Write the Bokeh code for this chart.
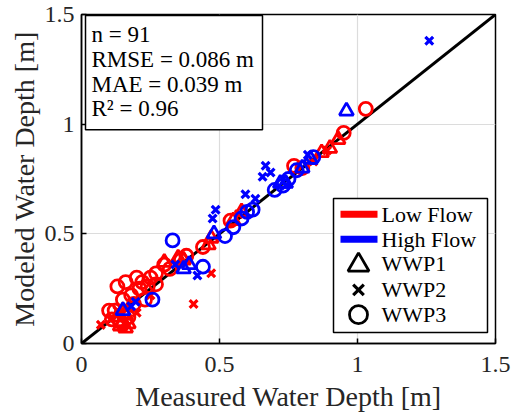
from bokeh.plotting import figure
from bokeh.models import Label, BoxAnnotation, Range1d, FixedTicker
from bokeh.embed import file_html
from bokeh.resources import INLINE

# ---------------- data ----------------
low_wwp1_x = [0.14, 0.15, 0.16, 0.17, 0.13, 0.16, 0.30, 0.35, 0.37, 0.46, 0.47, 0.55, 0.58, 0.87, 0.90, 0.93]
low_wwp1_y = [0.08, 0.10, 0.07, 0.09, 0.12, 0.13, 0.37, 0.39, 0.38, 0.45, 0.48, 0.56, 0.60, 0.87, 0.89, 0.93]

low_wwp2_x = [0.07, 0.105, 0.20, 0.406, 0.47, 0.57, 0.16, 0.25, 0.13, 0.89, 0.84]
low_wwp2_y = [0.085, 0.11, 0.14, 0.18, 0.32, 0.59, 0.17, 0.22, 0.15, 0.88, 0.83]

low_wwp3_x = [0.12, 0.13, 0.15, 0.16, 0.18, 0.20, 0.21, 0.22, 0.24, 0.25, 0.27, 0.30, 0.32, 0.36,
              0.38, 0.14, 0.17, 0.19, 0.23, 0.27, 0.44, 0.54, 0.77, 0.80, 0.95, 1.03, 0.10, 0.11]
low_wwp3_y = [0.15, 0.26, 0.20, 0.28, 0.22, 0.30, 0.25, 0.28, 0.26, 0.30, 0.32, 0.36, 0.34, 0.38,
              0.40, 0.10, 0.12, 0.18, 0.20, 0.27, 0.44, 0.56, 0.81, 0.80, 0.96, 1.07, 0.15, 0.11]

high_wwp1_x = [0.96, 0.37, 0.39, 0.48, 0.72, 0.80, 0.83, 0.74, 0.15]
high_wwp1_y = [1.06, 0.34, 0.36, 0.50, 0.73, 0.80, 0.84, 0.73, 0.15]

high_wwp2_x = [1.26, 0.667, 0.685, 0.656, 0.594, 0.63, 0.486, 0.475, 0.42, 0.34, 0.196, 0.18, 0.74, 0.82]
high_wwp2_y = [1.38, 0.81, 0.78, 0.76, 0.68, 0.66, 0.61, 0.57, 0.31, 0.36, 0.19, 0.17, 0.72, 0.86]

high_wwp3_x = [0.33, 0.44, 0.257, 0.52, 0.55, 0.62, 0.70, 0.73, 0.60, 0.78, 0.84, 0.58, 0.75]
high_wwp3_y = [0.47, 0.35, 0.20, 0.49, 0.53, 0.61, 0.70, 0.72, 0.60, 0.79, 0.85, 0.57, 0.75]

one_to_one = [0.0, 1.5]
tick_values = [0, 0.5, 1, 1.5]
tick_labels = ["0", "0.5", "1", "1.5"]
stats_lines = ["n = 91", "RMSE = 0.086 m", "MAE = 0.039 m", "R\u00b2 = 0.96"]
legend_labels = ["Low Flow", "High Flow", "WWP1", "WWP2", "WWP3"]

FONT = "Liberation Serif"
RED = "#ff0000"
BLUE = "#0000ff"
TXT = "#262626"

W, H = 511, 414
FL, FR, FT, FB = 81, 495, 14, 345   # frame edges in pixels
XMAX = YMAX = 1.5


def px2x(px):
    return (px - FL) / (FR - FL) * XMAX


def py2y(py):
    return (FB - py) / (FB - FT) * YMAX


p = figure(width=W, height=H, x_range=Range1d(0, XMAX), y_range=Range1d(0, YMAX),
           output_backend="svg", toolbar_location=None,
           min_border_left=FL, min_border_right=W - FR, min_border_top=FT, min_border_bottom=H - FB)
p.background_fill_color = "white"
p.border_fill_color = "white"
p.outline_line_color = "black"
p.outline_line_width = 1.5
p.outline_line_alpha = 1.0

for ax in (p.xaxis[0], p.yaxis[0]):
    ax.ticker = FixedTicker(ticks=tick_values)
    ax.major_label_overrides = {v: l for v, l in zip(tick_values, tick_labels)}
    ax.major_tick_in = 5
    ax.major_tick_out = 0
    ax.minor_tick_in = 0
    ax.minor_tick_out = 0
    ax.axis_line_color = "black"
    ax.axis_line_width = 1.5
    ax.major_tick_line_color = "black"
    ax.major_tick_line_width = 1.5
    ax.major_label_text_font = FONT
    ax.major_label_text_font_size = "24px"
    ax.major_label_text_color = TXT
    ax.axis_label_text_font = FONT
    ax.axis_label_text_font_size = "28px"
    ax.axis_label_text_font_style = "normal"
    ax.axis_label_text_color = TXT

p.xaxis.axis_label = "Measured Water Depth [m]"
p.yaxis.axis_label = "Modeled Water Depth [m]"
p.xaxis.major_label_standoff = 13
p.xaxis.axis_label_standoff = 6
p.yaxis.major_label_standoff = 7
p.yaxis.axis_label_standoff = 2
p.yaxis.major_label_orientation = "horizontal"

p.xgrid.ticker = FixedTicker(ticks=tick_values)
p.ygrid.ticker = FixedTicker(ticks=tick_values)
p.grid.grid_line_color = "#dcdcdc"
p.grid.grid_line_width = 1.2

# 1:1 line
p.line(one_to_one, one_to_one, line_color="black", line_width=3)

MS = 13
LW = 2.8
# low flow (red)
p.scatter(low_wwp3_x, low_wwp3_y, marker="circle", size=MS, fill_alpha=0, line_color=RED, line_width=LW)
p.scatter(low_wwp1_x, low_wwp1_y, marker="triangle", size=MS + 1, fill_alpha=0, line_color=RED, line_width=LW)
p.scatter(low_wwp2_x, low_wwp2_y, marker="x", size=MS - 2, line_color=RED, line_width=LW + 0.4)
# high flow (blue)
p.scatter(high_wwp3_x, high_wwp3_y, marker="circle", size=MS, fill_alpha=0, line_color=BLUE, line_width=LW)
p.scatter(high_wwp1_x, high_wwp1_y, marker="triangle", size=MS + 1, fill_alpha=0, line_color=BLUE, line_width=LW)
p.scatter(high_wwp2_x, high_wwp2_y, marker="x", size=MS - 2, line_color=BLUE, line_width=LW + 0.4)

# ---------------- stats box ----------------
p.add_layout(BoxAnnotation(left=px2x(85), right=px2x(262), top=py2y(15), bottom=py2y(130),
                           fill_color="white", fill_alpha=1.0,
                           line_color="black", line_width=1.5, line_alpha=1.0))
for i, txt in enumerate(stats_lines):
    p.add_layout(Label(x=px2x(91), y=py2y(34 + 25 * i), text=txt, text_font=FONT,
                       text_font_size="23px", text_color="black",
                       text_baseline="middle", text_align="left"))

# ---------------- legend (drawn by hand so the symbols keep MATLAB's size) ----------------
p.add_layout(BoxAnnotation(left=px2x(333), right=px2x(487), top=py2y(199), bottom=py2y(334),
                           fill_color="white", fill_alpha=1.0,
                           line_color="black", line_width=1.5, line_alpha=1.0))
row_py = [215, 240, 265, 291, 316]
sym_x = px2x(358)
p.line([px2x(340), px2x(377)], [py2y(row_py[0])] * 2, line_color=RED, line_width=7,
       line_cap="butt", level="overlay")
p.line([px2x(340), px2x(377)], [py2y(row_py[1])] * 2, line_color=BLUE, line_width=7,
       line_cap="butt", level="overlay")
p.scatter([sym_x], [py2y(row_py[2] + 1)], marker="triangle", size=21, fill_alpha=0,
          line_color="black", line_width=2.8, level="overlay")
p.scatter([sym_x], [py2y(row_py[3])], marker="x", size=15, line_color="black",
          line_width=3.2, level="overlay")
p.scatter([sym_x], [py2y(row_py[4])], marker="circle", size=18, fill_alpha=0,
          line_color="black", line_width=2.8, level="overlay")
for lab, ry in zip(legend_labels, row_py):
    p.add_layout(Label(x=px2x(381), y=py2y(ry), text=lab, text_font=FONT,
                       text_font_size="22px", text_color="black",
                       text_baseline="middle", text_align="left"))

with open("out.html", "w") as f:
    f.write(file_html(p, INLINE))
